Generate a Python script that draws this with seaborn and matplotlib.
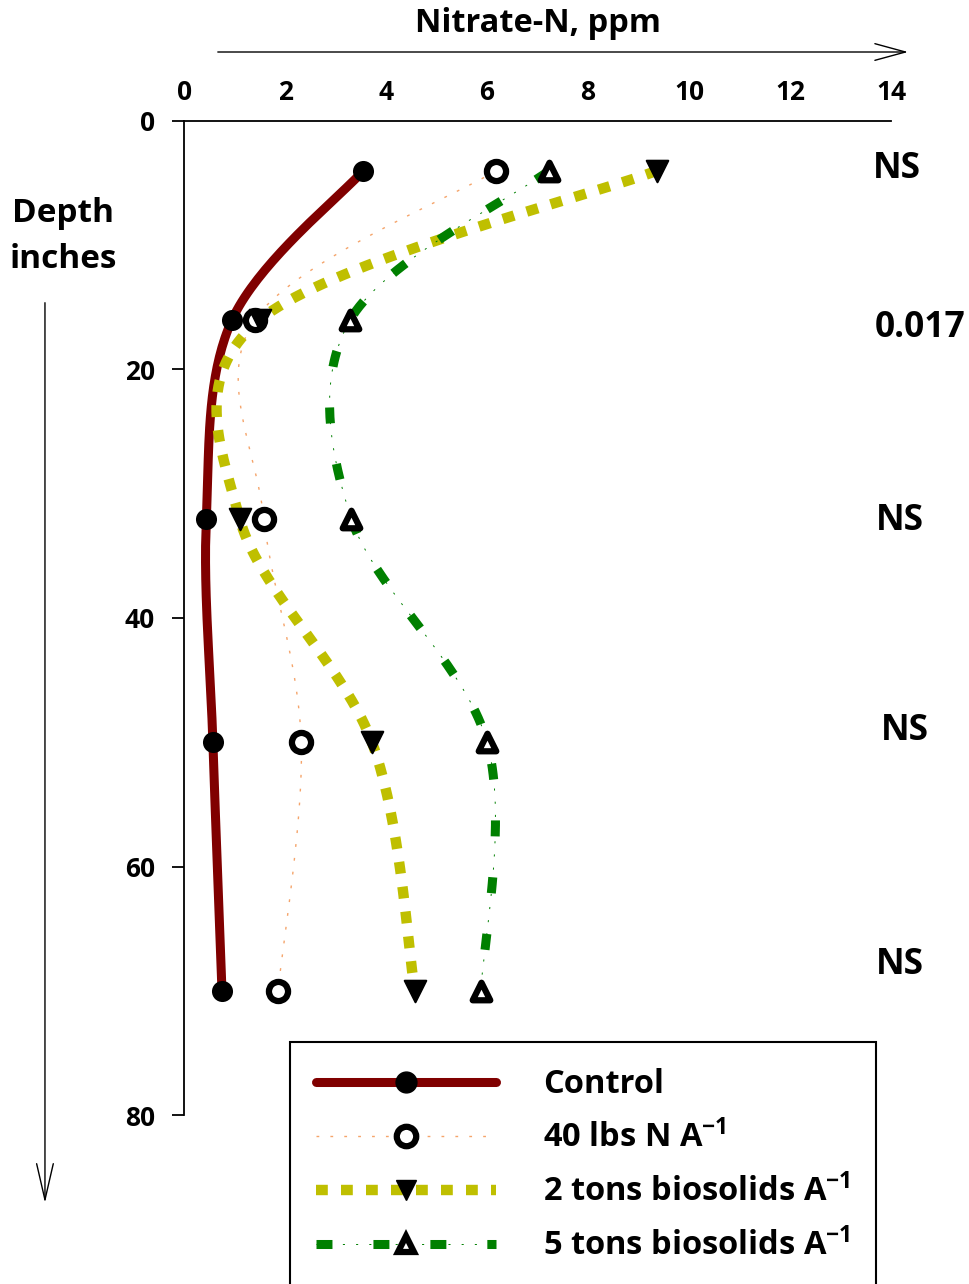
import numpy as np
import matplotlib
matplotlib.use('Agg')
import matplotlib.pyplot as plt
import seaborn as sns
from matplotlib.lines import Line2D

# data
depth = [4, 16, 32, 50, 70]
control = [3.55, 0.95, 0.44, 0.57, 0.75]
lbs40 = [6.18, 1.40, 1.58, 2.32, 1.86]
tons2 = [9.37, 1.50, 1.10, 3.72, 4.57]
tons5 = [7.23, 3.29, 3.31, 6.00, 5.88]

sig_labels = ['NS', '0.017', 'NS', 'NS', 'NS']
sig_x = [13.64, 13.68, 13.70, 13.80, 13.70]
sig_depth = [3.9, 16.7, 32.2, 49.1, 67.9]

xticks = [0, 2, 4, 6, 8, 10, 12, 14]
yticks = [0, 20, 40, 60, 80]


def smooth(xs, ys, sx=50.5, sy=12.43, n=40):
    # excel-like smoothed line (bezier through the points, done in screen-ish space)
    p = np.column_stack([np.array(xs) * sx, np.array(ys) * sy])
    p = np.vstack([p[0], p, p[-1]])
    out = []
    t = np.linspace(0, 1, n)[:, None]
    for i in range(1, len(p) - 2):
        p0, p3 = p[i], p[i + 1]
        c1 = p0 + (p[i + 1] - p[i - 1]) / 6
        c2 = p3 - (p[i + 2] - p[i]) / 6
        seg = (1 - t) ** 3 * p0 + 3 * (1 - t) ** 2 * t * c1 + 3 * (1 - t) * t ** 2 * c2 + t ** 3 * p3
        out.append(seg if i == 1 else seg[1:])
    out = np.vstack(out)
    return out[:, 0] / sx, out[:, 1] / sy


sns.set_style('white')
plt.rcParams['font.family'] = 'Open Sans'
plt.rcParams['font.weight'] = 'bold'
plt.rcParams['mathtext.default'] = 'regular'
plt.rcParams['lines.scale_dashes'] = False
for k in ['text.color', 'axes.labelcolor', 'xtick.color', 'ytick.color']:
    plt.rcParams[k] = 'black'

fig = plt.figure(figsize=(9.69, 12.84), dpi=100)
ax = fig.add_axes([0.19, 0.1316, 0.7295, 0.7742])

RED = '#800000'
ORANGE = '#F5A46A'
OLIVE = '#BFBF00'
GREEN = '#008000'

styles = {
    'control': dict(color=RED, lw=6.5, linestyle='-'),
    'lbs40': dict(color=ORANGE, lw=1.0, linestyle=(0, (2, 8))),
    'tons2': dict(color=OLIVE, lw=7.5, linestyle=(0, (8.5, 9.5))),
    'tons5_thin': dict(color=GREEN, lw=0.7, linestyle=(0, (1.5, 8))),
    'tons5': dict(color=GREEN, lw=6.5, linestyle=(0, (11.5, 29.5))),
}

for vals, key in [(control, 'control'), (lbs40, 'lbs40'), (tons2, 'tons2'),
                  (tons5, 'tons5_thin'), (tons5, 'tons5')]:
    xs, ys = smooth(vals, depth)
    sns.lineplot(x=xs, y=ys, sort=False, estimator=None, ax=ax, **styles[key])

mk = {
    'control': dict(marker='o', s=230, color='black', edgecolor='black', linewidth=0),
    'lbs40': dict(marker='o', s=190, color='white', edgecolor='black', linewidth=4.5),
    'tons2': dict(marker='v', s=240, color='black', edgecolor='black', linewidth=1.5),
    'tons5': dict(marker='^', s=160, color='white', edgecolor='black', linewidth=4.5),
}
for vals, key in [(control, 'control'), (lbs40, 'lbs40'), (tons2, 'tons2'), (tons5, 'tons5')]:
    sns.scatterplot(x=vals, y=depth, ax=ax, zorder=5, clip_on=False, **mk[key])

ax.set_xlim(0, 14)
ax.set_ylim(80, 0)
ax.xaxis.tick_top()
ax.set_xticks(xticks)
ax.set_yticks(yticks)
ax.tick_params(axis='x', length=0, pad=11, labelsize=19, colors='black')
ax.tick_params(axis='y', length=9, width=1.3, direction='out', pad=12, labelsize=19, left=True,
               colors='black')
for lab in ax.get_xticklabels() + ax.get_yticklabels():
    lab.set_fontweight('bold')
ax.spines['right'].set_visible(False)
ax.spines['bottom'].set_visible(False)
ax.spines['left'].set_linewidth(1.3)
ax.spines['top'].set_linewidth(1.3)
ax.spines['left'].set_color('black')
ax.spines['top'].set_color('black')
ax.set_xlabel('')
ax.set_ylabel('')

for lab, x, y in zip(sig_labels, sig_x, sig_depth):
    ax.text(x, y, lab, fontsize=25.5, fontweight='bold', ha='left', va='center', clip_on=False)

fig.text(0.555, 0.982, 'Nitrate-N, ppm', fontsize=23.5, fontweight='bold', ha='center', va='center')
fig.text(0.065, 0.816, 'Depth\ninches', fontsize=24, fontweight='bold', ha='center', va='center',
         linespacing=1.5)

fig.add_artist(matplotlib.patches.FancyArrowPatch(
    (0.2219, 0.9595), (0.940, 0.9595), transform=fig.transFigure,
    arrowstyle='->,head_length=1.1,head_width=0.3', mutation_scale=20, lw=1.0, color='black'))
fig.add_artist(matplotlib.patches.FancyArrowPatch(
    (0.0464, 0.7664), (0.0464, 0.0610), transform=fig.transFigure,
    arrowstyle='->,head_length=1.3,head_width=0.3', mutation_scale=20, lw=1.0, color='black'))

h_control = Line2D([], [], color=RED, lw=6.5, marker='o', ms=15, mfc='black', mec='black')
h_40 = Line2D([], [], color=ORANGE, lw=1.0, linestyle=(0, (2, 8)), marker='o', ms=14,
              mfc='white', mec='black', mew=4.5)
h_2 = Line2D([], [], color=OLIVE, lw=7.5, linestyle=(0, (8.5, 9.5)), marker='v', ms=15,
             mfc='black', mec='black')
h_5a = Line2D([], [], color=GREEN, lw=0.7, linestyle=(0, (1.5, 8)))
h_5b = Line2D([], [], color=GREEN, lw=6.5, linestyle=(0, (11.5, 29.5)), marker='^', ms=12,
              mfc='white', mec='black', mew=4.5)

leg = ax.legend([h_control, h_40, h_2, (h_5a, h_5b)],
                ['Control', '40 lbs N A$^{-1}$', '2 tons biosolids A$^{-1}$', '5 tons biosolids A$^{-1}$'],
                loc='upper left', bbox_to_anchor=(0.2993, 0.1885), bbox_transform=fig.transFigure,
                prop={'size': 23.5, 'weight': 'bold'}, handlelength=5.5, handletextpad=1.45,
                borderpad=0.8, borderaxespad=0, labelspacing=0.6, frameon=True, fancybox=False,
                framealpha=1)
leg.get_frame().set_edgecolor('black')
leg.get_frame().set_linewidth(1.5)
for t in leg.get_texts():
    t.set_color('black')

fig.savefig('out.png', dpi=100)
